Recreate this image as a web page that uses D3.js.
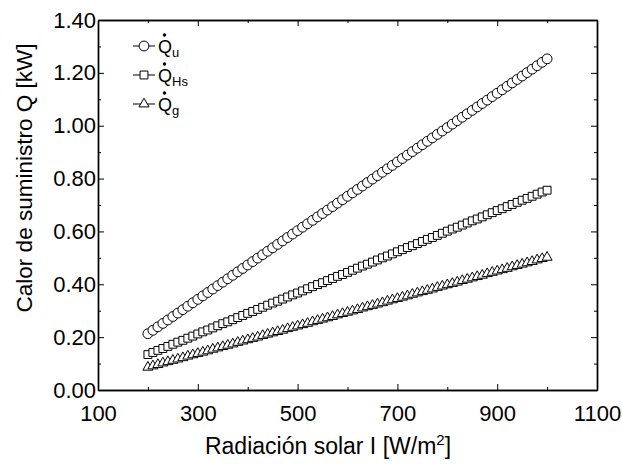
<!DOCTYPE html>
<html>
<head>
<meta charset="utf-8">
<script src="https://cdn.jsdelivr.net/npm/d3@7"></script>
<style>
  body { margin: 0; background: #fff; }
  svg { display: block; font-family: "Liberation Sans", Arial, sans-serif; }
</style>
</head>
<body>
<svg class="chart" width="622" height="464"></svg>
<script>
// radiacion solar I [W/m2]
var irradiance = [200,210,220,230,240,250,260,270,280,290,300,310,320,330,340,350,360,370,380,390,
  400,410,420,430,440,450,460,470,480,490,500,510,520,530,540,550,560,570,580,590,
  600,610,620,630,640,650,660,670,680,690,700,710,720,730,740,750,760,770,780,790,
  800,810,820,830,840,850,860,870,880,890,900,910,920,930,940,950,960,970,980,990,1000];

// Q_u [kW]
var qU = [0.213,0.226,0.239,0.252,0.265,0.278,0.291,0.304,0.317,0.330,
  0.343,0.356,0.369,0.382,0.395,0.408,0.421,0.434,0.447,0.460,
  0.473,0.486,0.499,0.512,0.525,0.538,0.551,0.564,0.577,0.590,
  0.603,0.616,0.629,0.642,0.655,0.668,0.681,0.694,0.707,0.720,
  0.733,0.746,0.759,0.772,0.785,0.798,0.811,0.824,0.837,0.850,
  0.863,0.876,0.889,0.902,0.915,0.928,0.941,0.954,0.967,0.980,
  0.993,1.006,1.019,1.032,1.045,1.058,1.071,1.084,1.097,1.110,
  1.123,1.136,1.149,1.162,1.175,1.188,1.201,1.214,1.227,1.240,1.253];

// Q_Hs [kW]
var qHs = [0.134,0.142,0.150,0.157,0.165,0.173,0.181,0.188,0.196,0.204,
  0.212,0.220,0.227,0.235,0.243,0.251,0.258,0.266,0.274,0.282,
  0.290,0.297,0.305,0.313,0.321,0.329,0.336,0.344,0.352,0.360,
  0.367,0.375,0.383,0.391,0.399,0.406,0.414,0.422,0.430,0.437,
  0.445,0.453,0.461,0.469,0.476,0.484,0.492,0.500,0.507,0.515,
  0.523,0.531,0.539,0.546,0.554,0.562,0.570,0.577,0.585,0.593,
  0.601,0.609,0.616,0.624,0.632,0.640,0.647,0.655,0.663,0.671,
  0.679,0.686,0.694,0.702,0.710,0.718,0.725,0.733,0.741,0.749,0.756];

// Q_g [kW]
var qG = [0.086,0.091,0.096,0.102,0.107,0.112,0.117,0.122,0.128,0.133,
  0.138,0.143,0.148,0.154,0.159,0.164,0.169,0.174,0.180,0.185,
  0.190,0.195,0.200,0.206,0.211,0.216,0.221,0.226,0.232,0.237,
  0.242,0.247,0.252,0.258,0.263,0.268,0.273,0.278,0.284,0.289,
  0.294,0.299,0.304,0.310,0.315,0.320,0.325,0.330,0.336,0.341,
  0.346,0.351,0.356,0.362,0.367,0.372,0.377,0.382,0.388,0.393,
  0.398,0.403,0.408,0.414,0.419,0.424,0.429,0.434,0.440,0.445,
  0.450,0.455,0.460,0.466,0.471,0.476,0.481,0.486,0.492,0.497,0.502];

var xTicks = [100,300,500,700,900,1100];
var xMinor = [200,400,600,800,1000];
var yTicks = [0,0.2,0.4,0.6,0.8,1.0,1.2,1.4];
var yMinor = [0.1,0.3,0.5,0.7,0.9,1.1,1.3];

var series = [
  {name: "u", values: qU, symbol: d3.symbolCircle, size: 76},
  {name: "Hs", values: qHs, symbol: d3.symbolSquare, size: 62},
  {name: "g", values: qG, symbol: d3.symbolTriangle, size: 44}
];

var svg = d3.select("svg.chart"),
margin = {top: 20, right: 25, bottom: 74, left: 98};
var width = 622 - margin.left - margin.right,
height = 464 - margin.top - margin.bottom;
var g = svg.append("g").attr("transform", "translate(" + margin.left + "," + margin.top + ")");

var x = d3.scaleLinear().domain([100, 1100]).range([0, width]);
var y = d3.scaleLinear().domain([0, 1.4]).range([height, 0]);

//Axes, ticks pointing inwards on all four sides
var styleAxis = function(sel) {
  sel.select(".domain").attr("stroke", "#000").attr("stroke-width", 1.4);
  sel.selectAll(".tick line").attr("stroke", "#000").attr("stroke-width", 1);
  sel.selectAll(".tick text").attr("fill", "#000").style("font-size", "22px")
    .style("font-family", "'Liberation Sans', Arial, sans-serif");
};

g.append("g").attr("transform", "translate(0," + height + ")")
  .call(d3.axisBottom(x).tickValues(xTicks).tickSizeInner(-6).tickSizeOuter(0).tickPadding(15).tickFormat(d3.format("d")))
  .call(styleAxis);
g.append("g").attr("transform", "translate(0," + height + ")")
  .call(d3.axisBottom(x).tickValues(xMinor).tickSizeInner(-3).tickSizeOuter(0).tickFormat(""))
  .call(styleAxis);
g.append("g")
  .call(d3.axisTop(x).tickValues(xTicks).tickSizeInner(-6).tickSizeOuter(0).tickFormat(""))
  .call(styleAxis);
g.append("g")
  .call(d3.axisTop(x).tickValues(xMinor).tickSizeInner(-3).tickSizeOuter(0).tickFormat(""))
  .call(styleAxis);

g.append("g")
  .call(d3.axisLeft(y).tickValues(yTicks).tickSizeInner(-6).tickSizeOuter(0).tickPadding(2).tickFormat(d3.format(".2f")))
  .call(styleAxis);
g.append("g")
  .call(d3.axisLeft(y).tickValues(yMinor).tickSizeInner(-3).tickSizeOuter(0).tickFormat(""))
  .call(styleAxis);
g.append("g").attr("transform", "translate(" + width + ",0)")
  .call(d3.axisRight(y).tickValues(yTicks).tickSizeInner(-6).tickSizeOuter(0).tickFormat(""))
  .call(styleAxis);
g.append("g").attr("transform", "translate(" + width + ",0)")
  .call(d3.axisRight(y).tickValues(yMinor).tickSizeInner(-3).tickSizeOuter(0).tickFormat(""))
  .call(styleAxis);

//Axis titles
var xTitle = svg.append("text")
  .attr("x", 328).attr("y", 454)
  .attr("text-anchor", "middle")
  .style("font-size", "23px")
  .text("Radiación solar I [W/m");
xTitle.append("tspan").attr("dy", -9).style("font-size", "15px").text("2");
xTitle.append("tspan").attr("dy", 9).text("]");

svg.append("text")
  .attr("transform", "translate(32,178) rotate(-90)")
  .attr("text-anchor", "middle")
  .style("font-size", "22.5px")
  .text("Calor de suministro Q [kW]");

//Lines and markers
var line = d3.line()
  .x(function(d, i) { return x(irradiance[i]); })
  .y(function(d) { return y(d); });

series.forEach(function(s) {
  g.append("path")
    .datum(s.values)
    .attr("fill", "none")
    .attr("stroke", "#000")
    .attr("stroke-width", 1)
    .attr("d", line);
  g.append("g").selectAll("path")
    .data(s.values)
    .enter().append("path")
    .attr("transform", function(d, i) { return "translate(" + x(irradiance[i]) + "," + y(d) + ")"; })
    .attr("d", d3.symbol().type(s.symbol).size(s.size))
    .attr("fill", "#fff")
    .attr("stroke", "#000")
    .attr("stroke-width", 1);
});

//Legend
var legend = svg.append("g").attr("transform", "translate(133,46)");
series.forEach(function(s, i) {
  var row = legend.append("g").attr("transform", "translate(0," + (i * 29) + ")");
  row.append("line").attr("x1", 0).attr("x2", 22).attr("y1", 0).attr("y2", 0)
    .attr("stroke", "#000").attr("stroke-width", 1);
  row.append("path").attr("transform", "translate(11,0)")
    .attr("d", d3.symbol().type(s.symbol).size(s.size))
    .attr("fill", "#fff").attr("stroke", "#000").attr("stroke-width", 1);
  var t = row.append("text").attr("x", 25).attr("y", 7).style("font-size", "18px").text("Q");
  t.append("tspan").attr("dy", 4).style("font-size", "13px").text(s.name);
  row.append("circle").attr("cx", 31.5).attr("cy", -11).attr("r", 1.7).attr("fill", "#000");
});
</script>
</body>
</html>
